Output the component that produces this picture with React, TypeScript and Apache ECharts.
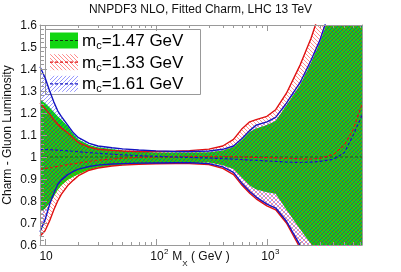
import React, { useEffect, useRef } from 'react';
import * as echarts from 'echarts';

// Invariant mass M_X in GeV
const MASS = [9, 10, 11, 12, 13, 14, 16, 18, 20, 25, 30, 40, 50, 70, 100, 150, 200, 300, 400, 500, 600, 700, 800, 1000, 1200, 1500, 2000, 2500, 3000, 4000, 5000, 6000, 7200];

// m_c = 1.47 GeV (reference) band
const GREEN_UP = [1.26, 1.245, 1.225, 1.205, 1.185, 1.17, 1.14, 1.105, 1.08, 1.055, 1.044, 1.036, 1.03, 1.025, 1.021, 1.02, 1.02, 1.022, 1.03, 1.045, 1.08, 1.115, 1.13, 1.145, 1.165, 1.235, 1.33, 1.43, 1.52, 1.7, 1.85, 2.0, 2.1];
const GREEN_LO = [0.75, 0.765, 0.79, 0.82, 0.85, 0.87, 0.895, 0.91, 0.922, 0.942, 0.952, 0.96, 0.964, 0.968, 0.97, 0.972, 0.972, 0.975, 0.962, 0.945, 0.905, 0.87, 0.852, 0.84, 0.833, 0.76, 0.67, 0.605, 0.54, 0.43, 0.33, 0.25, 0.15];
const GREEN_MID = [1, 1, 1, 1, 1, 1, 1, 1, 1, 1, 1, 1, 1, 1, 1, 1, 1, 1, 1, 1, 1, 1, 1, 1, 1, 1, 1, 1, 1, 1, 1, 1, 1];

// m_c = 1.33 GeV band
const RED_UP = [1.245, 1.22, 1.195, 1.17, 1.15, 1.133, 1.11, 1.085, 1.065, 1.045, 1.035, 1.03, 1.027, 1.025, 1.025, 1.026, 1.029, 1.036, 1.05, 1.08, 1.13, 1.16, 1.17, 1.185, 1.215, 1.29, 1.42, 1.54, 1.66, 1.85, 2.0, 2.15, 2.3];
const RED_LO = [0.64, 0.665, 0.71, 0.76, 0.8, 0.83, 0.87, 0.895, 0.915, 0.94, 0.95, 0.959, 0.963, 0.967, 0.969, 0.97, 0.97, 0.966, 0.948, 0.92, 0.87, 0.835, 0.81, 0.778, 0.76, 0.7, 0.585, 0.46, 0.35, 0.2, 0.1, 0.0, -0.1];
const RED_MID = [0.945, 0.948, 0.951, 0.954, 0.957, 0.96, 0.965, 0.969, 0.973, 0.98, 0.985, 0.991, 0.995, 0.998, 1.0, 1.001, 1.002, 1.002, 1.002, 1.001, 1.0, 0.999, 0.998, 0.997, 0.996, 0.994, 0.992, 0.991, 0.994, 1.012, 1.055, 1.125, 1.24];

// m_c = 1.61 GeV band
const BLUE_UP = [1.41, 1.36, 1.3, 1.25, 1.21, 1.185, 1.145, 1.11, 1.088, 1.062, 1.05, 1.042, 1.037, 1.032, 1.028, 1.025, 1.025, 1.027, 1.035, 1.05, 1.085, 1.12, 1.145, 1.16, 1.18, 1.245, 1.34, 1.44, 1.53, 1.72, 1.9, 2.05, 2.2];
const BLUE_LO = [0.66, 0.715, 0.785, 0.835, 0.875, 0.895, 0.92, 0.935, 0.945, 0.957, 0.963, 0.968, 0.97, 0.972, 0.973, 0.974, 0.974, 0.97, 0.955, 0.93, 0.878, 0.843, 0.818, 0.786, 0.768, 0.708, 0.597, 0.475, 0.37, 0.22, 0.12, 0.02, -0.08];
const BLUE_MID = [1.035, 1.034, 1.033, 1.032, 1.031, 1.03, 1.028, 1.026, 1.024, 1.02, 1.017, 1.013, 1.01, 1.006, 1.003, 1.0, 0.998, 0.995, 0.993, 0.99, 0.988, 0.986, 0.985, 0.982, 0.98, 0.977, 0.975, 0.977, 0.98, 0.99, 1.02, 1.1, 1.19];

const X_MIN = 9;
const X_MAX = 7200;
const X_MAJOR_TICKS = [10, 100, 1000];
const X_TICK_EXPONENTS = ['', '2', '3'];
const X_MINOR_TICKS = [20, 30, 40, 50, 60, 70, 80, 90, 200, 300, 400, 500, 600, 700, 800, 900, 2000, 3000, 4000, 5000, 6000, 7000];
const Y_MIN = 0.6;
const Y_MAX = 1.6;
const Y_STEP = 0.1;

const LEGEND_LABELS = ['=1.47 GeV', '=1.33 GeV', '=1.61 GeV'];

const FONT = '"Liberation Sans", Arial, Helvetica, sans-serif';
const AXIS_GRAY = '#9a9a9a';
const GREEN = '#12d612';
const RED = '#e01010';
const BLUE = '#1414c0';

function makeHatch(color: string, dir: number) {
  const c = document.createElement('canvas');
  c.width = 4;
  c.height = 4;
  const ctx = c.getContext('2d')!;
  ctx.fillStyle = color;
  for (let i = 0; i < 4; i++) ctx.fillRect(dir > 0 ? i : 3 - i, i, 1, 1);
  return { image: c, repeat: 'repeat', imageWidth: 4, imageHeight: 4 } as any;
}

export default function App() {
  const ref = useRef<HTMLDivElement>(null);
  useEffect(() => {
    const chart = echarts.init(ref.current!, null, { renderer: 'svg' });
    const lx = MASS.map((m) => Math.log10(m));
    const redHatch = makeHatch('rgba(255,0,0,0.45)', 1);
    const blueHatch = makeHatch('rgba(0,0,255,0.4)', -1);

    const band = (name: string, up: number[], lo: number[], fill: any, z: number) => ({
      type: 'custom',
      name,
      clip: true,
      z,
      silent: true,
      xAxisIndex: 0,
      yAxisIndex: 0,
      data: [[lx[0], 1]],
      renderItem: (_p: any, api: any) => {
        const pts: number[][] = [];
        for (let i = 0; i < lx.length; i++) pts.push(api.coord([lx[i], up[i]]));
        for (let i = lx.length - 1; i >= 0; i--) pts.push(api.coord([lx[i], lo[i]]));
        return { type: 'polygon', shape: { points: pts }, style: { fill, stroke: null } };
      },
    });
    const line = (name: string, vals: number[], color: string, width: number, dash: any, z: number) => ({
      type: 'line',
      name,
      xAxisIndex: 0,
      yAxisIndex: 0,
      data: lx.map((x, i) => [x, vals[i]]),
      showSymbol: false,
      symbol: 'none',
      silent: true,
      z,
      lineStyle: { color, width, type: dash },
    });

    const swatchY = [3.5, 25.2, 46.8];
    const swatchFill = [GREEN, redHatch, blueHatch];
    const dashColor = ['#111', RED, BLUE];
    const legendChildren: any[] = [
      { type: 'rect', shape: { x: 0.5, y: 0.5, width: 155, height: 65 }, style: { fill: '#fff', stroke: '#999', lineWidth: 1 } },
    ];
    for (let k = 0; k < 3; k++) {
      legendChildren.push({ type: 'rect', shape: { x: 5, y: swatchY[k], width: 28, height: 16 }, style: { fill: swatchFill[k] } });
      legendChildren.push({
        type: 'line',
        shape: { x1: 5, y1: swatchY[k] + 8, x2: 33, y2: swatchY[k] + 8 },
        style: { stroke: dashColor[k], lineWidth: k === 0 ? 0.8 : 1.2, lineDash: [3, 2] },
      });
      legendChildren.push({
        type: 'text',
        style: {
          x: 37,
          y: swatchY[k] + 8,
          text: '{m|m}{s|c}{m|' + LEGEND_LABELS[k] + '}',
          verticalAlign: 'middle',
          rich: {
            m: { fontSize: 17, lineHeight: 20, fontFamily: FONT, fill: '#000' },
            s: { fontSize: 11, lineHeight: 12, verticalAlign: 'bottom', fontFamily: FONT, fill: '#000' },
          },
        },
      });
    }

    const xBase = {
      type: 'value',
      min: Math.log10(X_MIN),
      max: Math.log10(X_MAX),
      gridIndex: 0,
      splitLine: { show: false },
      z: 10,
    };
    const majorLx = X_MAJOR_TICKS.map((v) => Math.log10(v));
    const minorLx = X_MINOR_TICKS.map((v) => Math.log10(v));

    chart.setOption({
      animation: false,
      title: {
        text: 'NNPDF3 NLO, Fitted Charm, LHC 13 TeV',
        left: 'center',
        top: 3,
        padding: 0,
        textStyle: { fontSize: 12, fontWeight: 'normal', color: '#111', fontFamily: FONT },
      },
      grid: { left: 40, right: 39, top: 25, bottom: 27, containLabel: false, outerBoundsMode: 'none' },
      xAxis: [
        {
          ...xBase,
          position: 'bottom',
          axisLine: { show: true, lineStyle: { color: AXIS_GRAY, width: 1 } },
          axisTick: { show: true, inside: true, length: 6, customValues: majorLx, lineStyle: { color: AXIS_GRAY } },
          axisLabel: { show: false },
          name: '{m|M}{s|X}{m| ( GeV )}',
          nameLocation: 'middle',
          nameGap: 0,
          nameMoveOverlap: false,
          nameTextStyle: {
            fontSize: 12,
            fontFamily: FONT,
            align: 'center',
            rich: {
              m: { fontSize: 12, lineHeight: 22, fontFamily: FONT, color: '#111' },
              s: { fontSize: 8, lineHeight: 14, verticalAlign: 'bottom', fontFamily: FONT, color: '#111' },
            },
          },
        },
        {
          ...xBase,
          position: 'bottom',
          axisLine: { show: false },
          axisTick: { show: true, inside: true, length: 3, customValues: minorLx, lineStyle: { color: AXIS_GRAY } },
          axisLabel: { show: false },
        },
        {
          ...xBase,
          position: 'top',
          axisLine: { show: true, lineStyle: { color: AXIS_GRAY, width: 1 } },
          axisTick: { show: true, inside: true, length: 6, customValues: majorLx, lineStyle: { color: AXIS_GRAY } },
          axisLabel: { show: false },
        },
        {
          ...xBase,
          position: 'top',
          axisLine: { show: false },
          axisTick: { show: true, inside: true, length: 3, customValues: minorLx, lineStyle: { color: AXIS_GRAY } },
          axisLabel: { show: false },
        },
      ],
      yAxis: [
        {
          type: 'value',
          min: Y_MIN,
          max: Y_MAX,
          interval: Y_STEP,
          position: 'left',
          z: 10,
          axisLine: { show: true, lineStyle: { color: AXIS_GRAY, width: 1 } },
          axisTick: { show: true, inside: true, length: 7, lineStyle: { color: AXIS_GRAY } },
          minorTick: { show: true, splitNumber: 5, length: 4, lineStyle: { color: AXIS_GRAY } },
          axisLabel: { margin: 3, fontSize: 12, color: '#111', fontFamily: FONT },
          splitLine: { show: false },
          name: 'Charm - Gluon Luminosity',
          nameLocation: 'middle',
          nameGap: 27,
          nameMoveOverlap: false,
          nameTextStyle: { fontSize: 12, color: '#111', fontFamily: FONT },
        },
        {
          type: 'value',
          min: Y_MIN,
          max: Y_MAX,
          interval: Y_STEP,
          position: 'right',
          z: 10,
          axisLine: { show: true, lineStyle: { color: AXIS_GRAY, width: 1 } },
          axisTick: { show: false },
          axisLabel: { show: false },
          splitLine: { show: false },
        },
      ],
      series: [
        band('m_c=1.47 GeV', GREEN_UP, GREEN_LO, GREEN, 1),
        band('m_c=1.33 GeV hatch', RED_UP, RED_LO, redHatch, 2),
        band('m_c=1.61 GeV hatch', BLUE_UP, BLUE_LO, blueHatch, 3),
        line('m_c=1.47 GeV central', GREEN_MID, '#1a3a1a', 0.7, [3, 2], 4),
        line('m_c=1.33 GeV central', RED_MID, RED, 1.2, [3, 2], 5),
        line('m_c=1.61 GeV central', BLUE_MID, BLUE, 1.2, [3, 2], 5),
        line('m_c=1.33 GeV upper', RED_UP, RED, 1.4, 'solid', 6),
        line('m_c=1.33 GeV lower', RED_LO, RED, 1.4, 'solid', 6),
        line('m_c=1.61 GeV upper', BLUE_UP, BLUE, 1.4, 'solid', 7),
        line('m_c=1.61 GeV lower', BLUE_LO, BLUE, 1.4, 'solid', 7),
      ],
      graphic: [{ id: 'legend', type: 'group', x: 45, y: 29, z: 100, children: legendChildren }],
    });

    // x tick labels (10, 10^2, 10^3) placed through the x axis scale
    const bottomY = chart.convertToPixel({ yAxisIndex: 0 }, Y_MIN) as number;
    const tickLabels: any[] = [];
    X_MAJOR_TICKS.forEach((v, i) => {
      const px = chart.convertToPixel({ xAxisIndex: 0 }, Math.log10(v)) as number;
      tickLabels.push({
        type: 'text',
        z: 50,
        style: { x: px + 1, y: bottomY + 11, text: '10', align: 'center', verticalAlign: 'middle', fontSize: 12, fontFamily: FONT, fill: '#111' },
      });
      if (X_TICK_EXPONENTS[i]) {
        tickLabels.push({
          type: 'text',
          z: 50,
          style: { x: px + 8, y: bottomY + 6, text: X_TICK_EXPONENTS[i], align: 'left', verticalAlign: 'middle', fontSize: 8, fontFamily: FONT, fill: '#111' },
        });
      }
    });
    chart.setOption({
      graphic: [
        { id: 'legend', type: 'group', x: 45, y: 29, z: 100, children: legendChildren },
        { id: 'xlabels', type: 'group', z: 50, children: tickLabels },
      ],
    });
    return () => chart.dispose();
  }, []);
  return <div ref={ref} style={{ position: 'fixed', left: 0, top: 0, width: 401, height: 272 }} />;
}
